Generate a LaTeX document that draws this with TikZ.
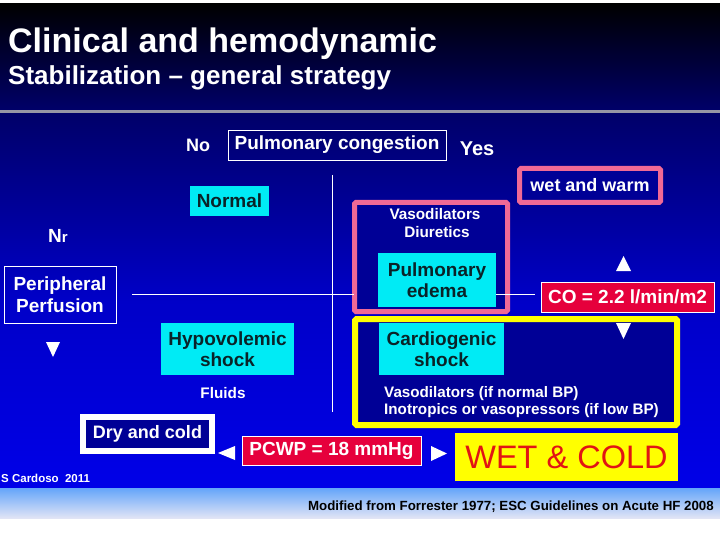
\documentclass[tikz,border=0pt]{standalone}
\usepackage{fontspec}
\setmainfont{Liberation Sans}
\usetikzlibrary{positioning}
\definecolor{cyanb}{RGB}{0,235,245}
\definecolor{cyantext}{RGB}{10,35,40}
\definecolor{redb}{RGB}{230,0,60}
\definecolor{pinkb}{RGB}{240,105,150}
\definecolor{yelb}{RGB}{255,255,0}
\definecolor{wetred}{RGB}{225,20,20}
\definecolor{navy}{RGB}{0,0,105}
\definecolor{bluebg}{RGB}{0,0,232}
\definecolor{innerblue}{RGB}{0,0,150}
\definecolor{graybar}{RGB}{150,150,165}
\tikzset{
  x=1pt,y=-1pt,
  lbl/.style={font=\bfseries\fontsize{#1}{#1}\selectfont,text=white,inner sep=0pt},
  lbl/.default=15,
  cyanbox/.style={fill=cyanb,text=cyantext,font=\bfseries\fontsize{19}{21}\selectfont,align=center,inner sep=0pt},
  redbox/.style={fill=redb,draw=white,line width=0.8pt,text=white,font=\bfseries\fontsize{19}{21}\selectfont,inner sep=0pt},
  outlinebox/.style={draw=white,line width=0.8pt,text=white,font=\bfseries\fontsize{19}{22}\selectfont,align=center,inner sep=0pt},
  tri/.style={fill=white},
  axis/.style={draw=white,line width=0.7pt}
}
\begin{document}
\begin{tikzpicture}
\useasboundingbox (0,0) rectangle (720,540);
\fill[white] (0,0) rectangle (720,540);
% header
\shade[top color=black,bottom color=navy] (0,4) rectangle (720,110);
\fill[graybar] (0,110) rectangle (720,114);
% main blue
\shade[top color=navy,bottom color=bluebg,middle color={rgb,255:red,0;green,0;blue,200}] (0,114) rectangle (720,488);
% bottom strip
\shade[top color={rgb,255:red,100;green,165;blue,250},bottom color={rgb,255:red,225;green,228;blue,245}] (0,488) rectangle (720,518);

% titles
\node[lbl=34,anchor=base west] (title) at (8,53) {Clinical and hemodynamic};
\node[lbl=26,anchor=base west] (subtitle) at (8,85) {Stabilization -- general strategy};

% axes
\draw[axis] (332,175) coordinate (vtop) -- (332,412) coordinate (vbot);
\coordinate (hleft) at (132,294);
\coordinate (hright) at (535,294);

% pink box
\draw[pinkb,line width=5pt,fill=innerblue,rounded corners=1.5pt] (354.5,202.5) rectangle (507.5,311.5);
\node[lbl=15.3] (vaso1) at (435,214) {Vasodilators};
\node[lbl=15.3] (diur) at (437,232) {Diuretics};
% wet and warm
\node[draw=pinkb,line width=5pt,fill=innerblue,rounded corners=1.5pt,minimum width=141pt,minimum height=34pt,lbl=18] (wetwarm) at (590,185.5) {wet and warm};
% yellow box
\draw[yelb,line width=6pt,fill=innerblue,rounded corners=1.5pt] (355,319) rectangle (677,425);

\draw[axis] (hleft) -- (354,294);
\draw[axis] (496,294) -- (hright);

% top axis label
\node[lbl=18] (no) at (198,145) {No};
\node[outlinebox,minimum width=218pt,minimum height=30pt] (pc) at (337,145) {Pulmonary congestion};
\node[lbl=20] (yes) at (477,149) {Yes};

% left
\node[lbl=19,anchor=base] (nr) at (58,243) {N{\fontsize{15}{15}\selectfont r}};
\node[outlinebox,minimum width=112pt,minimum height=57pt] (pp) at (60,294.5) {Peripheral\\ Perfusion};

% boxes
\node[cyanbox,minimum width=79pt,minimum height=30pt] (normal) at (229.5,201) {Normal};
\node[cyanbox,minimum width=133pt,minimum height=52pt] (hypo) at (227.5,349) {Hypovolemic\\shock};
\node[lbl=15.3] (fluids) at (223,393) {Fluids};
\node[cyanbox,minimum width=118pt,minimum height=54pt] (edema) at (437,280) {Pulmonary\\edema};
\node[cyanbox,minimum width=125pt,minimum height=52pt] (cardio) at (441.5,349) {Cardiogenic\\shock};
\node[lbl=15.2,anchor=west] (vaso2) at (384,394) {Vasodilators (if normal BP)};
\node[lbl=15.2,anchor=west] (ino) at (384,411) {Inotropics or vasopressors (if low BP)};

\node[redbox,minimum width=173pt,minimum height=30pt] (co) at (627.5,297) {CO = 2.2 l/min/m2};
\node[redbox,minimum width=179pt,minimum height=29pt] (pcwp) at (331.5,450.5) {PCWP = 18 mmHg};
\node[draw=white,line width=6pt,fill=innerblue,minimum width=129pt,minimum height=34pt,lbl=18] (dry) at (147.5,434) {Dry and cold};
\node[fill=yelb,minimum width=223pt,minimum height=48pt,inner sep=0pt,text=wetred,font=\fontsize{32.5}{32.5}\selectfont] (wetcold) at (566.5,457) {WET \& COLD};

% triangles
\fill[tri] (46,342) -- (60,342) -- (53,357) -- cycle;
\fill[tri] (616,271) -- (631,271) -- (623.5,256) -- cycle;
\fill[tri] (616,323) -- (631,323) -- (623.5,339) -- cycle;
\fill[tri] (235,446) -- (235,460) -- (218,453) -- cycle;
\fill[tri] (431,446) -- (431,461) -- (447,453.5) -- cycle;

% credits
\node[lbl=11.5,anchor=base west] (cardoso) at (1,482) {S Cardoso\ \ 2011};
\node[font=\bfseries\fontsize{13.3}{13.3}\selectfont,text=black,anchor=base east,inner sep=0pt] (foot) at (714,510) {Modified from Forrester 1977; ESC Guidelines on Acute HF 2008};
\end{tikzpicture}
\end{document}
